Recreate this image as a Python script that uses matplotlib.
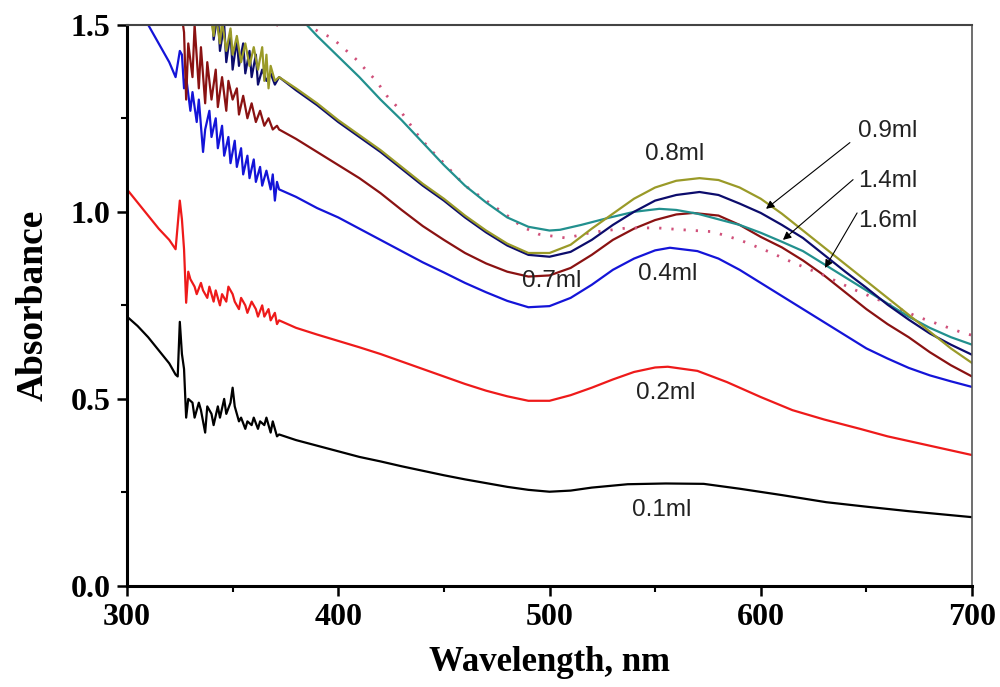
import matplotlib
matplotlib.use('Agg')
import matplotlib.pyplot as plt
from matplotlib.ticker import MultipleLocator

# 0.1 ml (black)
wl_01 = [300, 305, 310, 315, 320, 323, 324, 325, 326, 327, 328, 329, 331, 332, 334, 335, 337, 338, 340, 341,
         343, 344, 346, 347, 349, 350, 351, 353, 354, 356, 357, 359, 360, 362, 363, 365, 366, 368, 369, 371,
         372, 380, 390, 400, 410, 420, 430, 440, 450, 460, 470, 480, 490, 500, 510, 520, 537, 555, 573, 590,
         610, 631, 650, 670, 700]
ab_01 = [0.72, 0.695, 0.665, 0.63, 0.595, 0.565, 0.56, 0.706, 0.62, 0.58, 0.45, 0.50, 0.49, 0.45, 0.49, 0.47, 0.41, 0.48, 0.46, 0.43,
         0.48, 0.45, 0.50, 0.46, 0.49, 0.53, 0.48, 0.44, 0.45, 0.42, 0.44, 0.43, 0.45, 0.42, 0.44, 0.43, 0.45, 0.41, 0.44, 0.40,
         0.405, 0.39, 0.375, 0.36, 0.345, 0.333, 0.32, 0.308, 0.296, 0.285, 0.275, 0.265, 0.257, 0.252, 0.255, 0.263, 0.272, 0.274, 0.273, 0.26,
         0.243, 0.224, 0.212, 0.20, 0.184]

# 0.2 ml (red)
wl_02 = [300, 305, 310, 315, 320, 323, 325, 326, 327, 328, 329, 330, 332, 333, 335, 336, 338, 339, 341, 342,
         344, 345, 347, 348, 350, 351, 353, 354, 356, 357, 359, 361, 362, 364, 365, 367, 368, 370, 371, 372,
         380, 390, 400, 410, 420, 430, 440, 450, 460, 470, 480, 490, 500, 510, 520, 530, 540, 550, 556, 570,
         584, 590, 600, 615, 630, 647, 660, 680, 700]
ab_02 = [1.06, 1.025, 0.99, 0.955, 0.925, 0.90, 1.03, 0.98, 0.90, 0.757, 0.84, 0.82, 0.80, 0.78, 0.81, 0.79, 0.77, 0.80, 0.76, 0.79,
         0.75, 0.78, 0.76, 0.80, 0.78, 0.76, 0.74, 0.77, 0.75, 0.73, 0.76, 0.74, 0.72, 0.75, 0.72, 0.74, 0.71, 0.73, 0.70, 0.71,
         0.69, 0.672, 0.655, 0.638, 0.62, 0.60, 0.58, 0.56, 0.54, 0.522, 0.507, 0.495, 0.495, 0.51, 0.53, 0.552, 0.572, 0.584, 0.586, 0.575,
         0.545, 0.53, 0.505, 0.47, 0.445, 0.42, 0.40, 0.375, 0.35]

# 0.4 ml (blue)
wl_04 = [300, 305, 310, 315, 320, 323, 325, 326, 327, 328, 330, 331, 333, 334, 336, 337, 339, 340, 342, 343,
         345, 346, 348, 349, 351, 352, 354, 355, 357, 358, 360, 361, 363, 364, 366, 368, 369, 370, 371, 372,
         380, 390, 400, 410, 420, 430, 440, 450, 460, 470, 480, 490, 500, 510, 520, 530, 540, 550, 557, 570,
         580, 590, 600, 610, 620, 630, 640, 650, 660, 670, 680, 690, 700]
ab_04 = [1.62, 1.56, 1.50, 1.45, 1.40, 1.36, 1.43, 1.42, 1.33, 1.36, 1.27, 1.32, 1.24, 1.30, 1.16, 1.22, 1.27, 1.20, 1.25, 1.17,
         1.23, 1.15, 1.20, 1.13, 1.19, 1.12, 1.17, 1.10, 1.15, 1.09, 1.14, 1.08, 1.12, 1.07, 1.11, 1.06, 1.10, 1.03, 1.08, 1.06,
         1.04, 1.01, 0.985, 0.955, 0.925, 0.895, 0.865, 0.838, 0.81, 0.785, 0.762, 0.745, 0.748, 0.77, 0.805, 0.845, 0.875, 0.897, 0.904, 0.895,
         0.875, 0.845, 0.81, 0.775, 0.74, 0.705, 0.67, 0.635, 0.608, 0.583, 0.563, 0.547, 0.532]

# 0.7 ml (brown)
wl_07 = [320, 325, 327, 328, 329, 331, 332, 334, 335, 337, 338, 340, 342, 343, 345, 347, 348, 350, 352, 353,
         355, 357, 359, 361, 363, 365, 367, 369, 371, 372, 380, 390, 400, 410, 420, 430, 440, 450, 460, 470,
         480, 490, 500, 510, 520, 530, 540, 550, 560, 568, 580, 590, 600, 610, 620, 630, 640, 650, 660, 670,
         680, 690, 700]
ab_07 = [1.62, 1.56, 1.48, 1.30, 1.45, 1.36, 1.50, 1.33, 1.44, 1.29, 1.40, 1.30, 1.38, 1.28, 1.36, 1.27, 1.35, 1.30, 1.33, 1.26,
         1.31, 1.25, 1.29, 1.24, 1.27, 1.23, 1.25, 1.22, 1.23, 1.22, 1.195, 1.16, 1.125, 1.09, 1.05, 1.005, 0.962, 0.925, 0.89, 0.862,
         0.84, 0.827, 0.83, 0.85, 0.885, 0.925, 0.955, 0.978, 0.993, 0.997, 0.99, 0.965, 0.933, 0.905, 0.87, 0.83, 0.785, 0.74, 0.70, 0.665,
         0.625, 0.59, 0.56]

# 0.8 ml (teal)
wl_08 = [375, 385, 390, 400, 410, 420, 430, 440, 450, 460, 470, 480, 490, 500, 505, 515, 528, 540, 552, 560,
         570, 580, 590, 600, 610, 620, 630, 640, 650, 660, 670, 680, 690, 700]
ab_08 = [1.53, 1.50, 1.47, 1.415, 1.36, 1.30, 1.245, 1.185, 1.125, 1.07, 1.025, 0.985, 0.96, 0.95, 0.952, 0.965, 0.984, 1.0, 1.008, 1.005,
         0.995, 0.98, 0.965, 0.944, 0.92, 0.895, 0.86, 0.825, 0.79, 0.755, 0.72, 0.69, 0.665, 0.645]

# 0.9 ml (olive)
wl_09 = [335, 338, 339, 341, 342, 344, 345, 347, 349, 350, 352, 354, 356, 358, 360, 362, 364, 365, 366, 367,
         368, 370, 372, 380, 390, 400, 410, 420, 430, 440, 450, 460, 470, 480, 490, 500, 510, 520, 528, 540,
         550, 560, 571, 580, 590, 600, 610, 620, 630, 640, 650, 660, 670, 680, 690, 700]
ab_09 = [1.60, 1.50, 1.55, 1.47, 1.53, 1.45, 1.51, 1.43, 1.49, 1.42, 1.47, 1.40, 1.45, 1.39, 1.44, 1.38, 1.44, 1.35, 1.42, 1.33,
         1.39, 1.35, 1.36, 1.33, 1.29, 1.245, 1.205, 1.165, 1.12, 1.075, 1.035, 0.99, 0.95, 0.915, 0.89, 0.89, 0.912, 0.955, 0.987, 1.035,
         1.065, 1.083, 1.09, 1.085, 1.065, 1.035, 0.995, 0.95, 0.905, 0.86, 0.815, 0.77, 0.725, 0.68, 0.635, 0.596]

# 1.4 ml (navy)
wl_14 = [335, 338, 340, 341, 343, 344, 346, 347, 349, 350, 352, 353, 355, 356, 358, 359, 361, 362, 364, 366,
         368, 370, 372, 380, 390, 400, 410, 420, 430, 440, 450, 460, 470, 480, 490, 500, 510, 520, 530, 540,
         550, 560, 571, 580, 590, 600, 610, 620, 630, 640, 650, 660, 670, 680, 690, 700]
ab_14 = [1.62, 1.52, 1.56, 1.46, 1.53, 1.43, 1.50, 1.40, 1.48, 1.38, 1.46, 1.39, 1.45, 1.37, 1.43, 1.36, 1.42, 1.34, 1.38, 1.35,
         1.37, 1.34, 1.36, 1.325, 1.285, 1.24, 1.20, 1.16, 1.115, 1.07, 1.03, 0.985, 0.945, 0.91, 0.885, 0.88, 0.893, 0.925, 0.965, 1.0,
         1.03, 1.045, 1.053, 1.045, 1.022, 0.997, 0.965, 0.93, 0.885, 0.84, 0.797, 0.752, 0.712, 0.675, 0.645, 0.618]

# 1.6 ml (dotted)
wl_16 = [360, 369, 378, 391, 397, 402, 408, 413, 418, 423, 428, 432, 437, 443, 450, 460, 470, 480, 487, 495,
         508, 520, 537, 551, 563, 577, 590, 604, 615, 630, 643, 660, 674, 694, 700]
ab_16 = [1.56, 1.49, 1.53, 1.48, 1.465, 1.44, 1.41, 1.38, 1.35, 1.31, 1.28, 1.25, 1.21, 1.17, 1.13, 1.07, 1.03, 0.99, 0.96, 0.94,
         0.93, 0.945, 0.957, 0.957, 0.952, 0.947, 0.925, 0.893, 0.865, 0.83, 0.795, 0.755, 0.72, 0.68, 0.67]

# curve labels: text, x, y
labels = ['0.1ml', '0.2ml', '0.4ml', '0.7ml', '0.8ml']
label_x = [553, 555, 556, 501, 559]
label_y = [0.203, 0.515, 0.834, 0.816, 1.155]

# arrow labels: text, text pos, arrow tail, arrow head
arrow_labels = ['0.9ml', '1.4ml', '1.6ml']
arrow_text_xy = [(660, 1.217), (660, 1.083), (660, 0.976)]
arrow_tail = [(642.2, 1.185), (643.7, 1.086), (645.6, 0.997)]
arrow_head = [(602.5, 1.008), (610.5, 0.925), (630.4, 0.850)]

fig = plt.figure(figsize=(10, 6.87), dpi=100)
ax = fig.add_axes([0.127, 0.147, 0.845, 0.817])

lw = 1.6
ax.plot(wl_01, ab_01, color='black', lw=lw)
ax.plot(wl_02, ab_02, color='#ee1a1a', lw=lw)
ax.plot(wl_04, ab_04, color='#1414d8', lw=lw)
ax.plot(wl_07, ab_07, color='#8a1212', lw=lw)
ax.plot(wl_16, ab_16, color='#d0507a', lw=2.0, linestyle=(0, (0.8, 3.6)))
ax.plot(wl_08, ab_08, color='#22908e', lw=lw)
ax.plot(wl_14, ab_14, color='#0c0c6c', lw=lw)
ax.plot(wl_09, ab_09, color='#9a9a28', lw=lw)

for t, x, y in zip(labels, label_x, label_y):
    ax.text(x, y, t, fontsize=17.5, family='Liberation Sans', ha='center', va='center', color='#222222')

for t, txy, tail, head in zip(arrow_labels, arrow_text_xy, arrow_tail, arrow_head):
    ax.text(txy[0], txy[1], t, fontsize=17.5, family='Liberation Sans', ha='center', va='center', color='#222222')
    ax.annotate('', xy=head, xytext=tail,
                arrowprops=dict(arrowstyle='-|>', color='black', lw=0.8, mutation_scale=12, shrinkA=0, shrinkB=0))

ax.set_xlim(300, 700)
ax.set_ylim(0, 1.5)
ax.xaxis.set_major_locator(MultipleLocator(100))
ax.xaxis.set_minor_locator(MultipleLocator(50))
ax.yaxis.set_major_locator(MultipleLocator(0.5))
ax.yaxis.set_minor_locator(MultipleLocator(0.25))
ax.yaxis.set_major_formatter(plt.FuncFormatter(lambda v, p: '%.1f' % v))

ax.tick_params(which='major', direction='out', length=7, width=1.8, pad=5,
               labelsize=23, top=False, right=False)
ax.tick_params(which='minor', direction='out', length=4, width=1.5, top=False, right=False)
for lab in ax.get_xticklabels() + ax.get_yticklabels():
    lab.set_fontfamily('Liberation Serif')
    lab.set_fontweight('bold')

ax.spines['left'].set_linewidth(2.2)
ax.spines['bottom'].set_linewidth(2.2)
ax.spines['top'].set_linewidth(1.5)
ax.spines['top'].set_color('#444444')
ax.spines['right'].set_linewidth(1.2)
ax.spines['right'].set_color('#555555')

ax.set_xlabel('Wavelength, nm', fontsize=25, family='Liberation Serif', fontweight='bold', labelpad=10)
ax.set_ylabel('Absorbance', fontsize=27, family='Liberation Serif', fontweight='bold', labelpad=14)

fig.savefig('out.png', dpi=100)
